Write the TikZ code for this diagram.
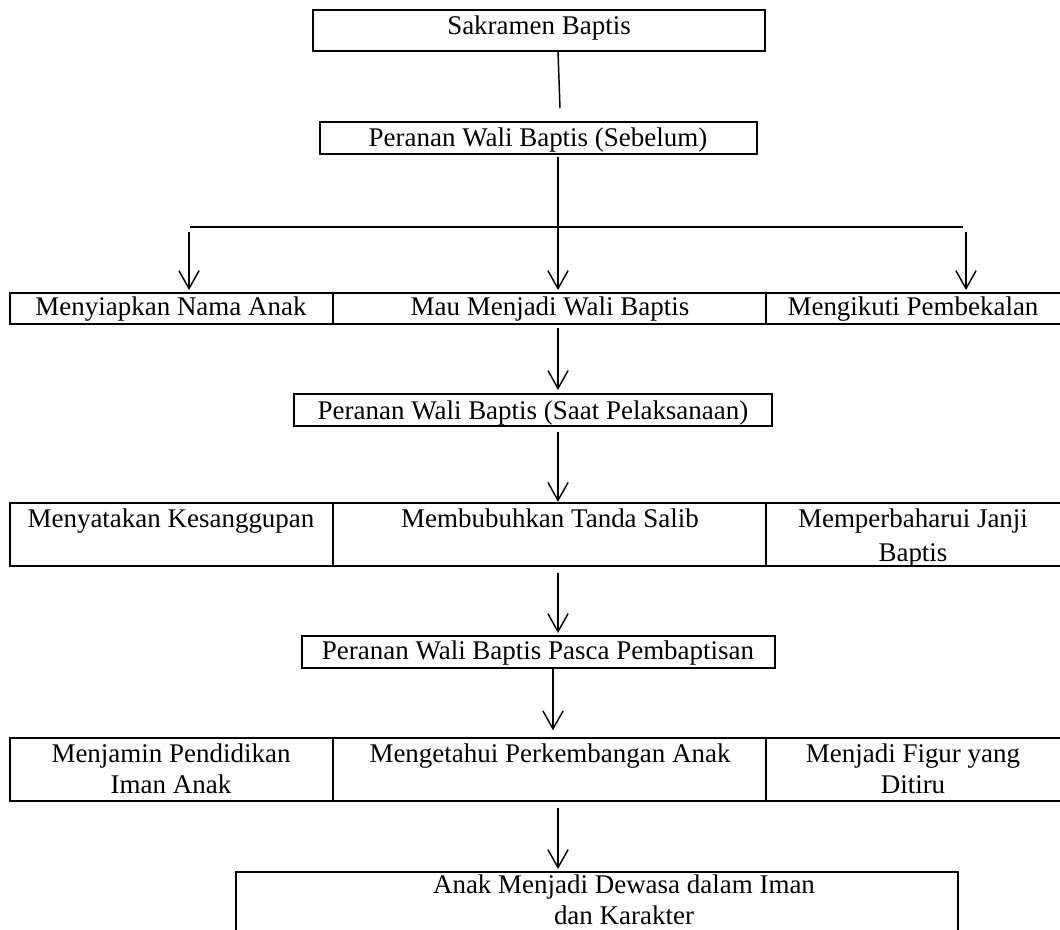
\documentclass[tikz,border=0pt]{standalone}
\usepackage{fontspec}
\setmainfont{Liberation Serif}
\usetikzlibrary{arrows.meta}
\newcommand{\mybox}[5]{\node[boxs, minimum width={(#4-#2)*0.445pt}, minimum height={(#5-#3)*0.445pt}] (#1) at ({(#2+#4)/2},{(#3+#5)/2}) {};}
\begin{document}
\begin{tikzpicture}[x=0.445pt,y=-0.445pt,
  boxs/.style={draw, line width=0.95pt, inner sep=0pt, outer sep=0pt},
  txt/.style={anchor=base, inner sep=0pt, font=\fontsize{12pt}{14.5pt}\selectfont},
  lnk/.style={line width=0.65pt},
  arr/.style={line width=0.65pt, -{Straight Barb[length=8pt,width=9pt]}}]
\useasboundingbox (0,0) rectangle (1060,930);
% boxes
\mybox{A}{313}{10}{765}{51}
\mybox{B}{320}{122}{757}{154}
\mybox{r1a}{10}{293}{333}{324}
\mybox{r1b}{333}{293}{766}{324}
\mybox{r1c}{766}{293}{1063}{324}
\mybox{C}{294}{394}{772}{426}
\mybox{r2a}{10}{503}{333}{566}
\mybox{r2b}{333}{503}{766}{566}
\mybox{r2c}{766}{503}{1063}{566}
\mybox{D}{302}{636}{775}{668}
\mybox{r3a}{10}{738}{333}{801}
\mybox{r3b}{333}{738}{766}{801}
\mybox{r3c}{766}{738}{1063}{801}
\mybox{E}{236}{872}{958}{945}
% texts
\node[txt] (tA) at (539,35) {Sakramen Baptis};
\node[txt] (tB) at (538,147) {Peranan Wali Baptis (Sebelum)};
\node[txt] (t1a) at (171,316) {Menyiapkan Nama Anak};
\node[txt] (t1b) at (550,316) {Mau Menjadi Wali Baptis};
\node[txt] (t1c) at (913,316) {Mengikuti Pembekalan};
\node[txt] (tC) at (533,420) {Peranan Wali Baptis (Saat Pelaksanaan)};
\node[txt] (t2a) at (171,528) {Menyatakan Kesanggupan};
\node[txt] (t2b) at (550,528) {Membubuhkan Tanda Salib};
\node[txt] (t2c) at (913,528) {Memperbaharui Janji};
\node[txt] (t2d) at (913,561) {Baptis};
\node[txt] (tD) at (538,660) {Peranan Wali Baptis Pasca Pembaptisan};
\node[txt] (t3a) at (171,762) {Menjamin Pendidikan};
\node[txt] (t3b) at (171,794) {Iman Anak};
\node[txt] (t3c) at (550,762) {Mengetahui Perkembangan Anak};
\node[txt] (t3d) at (913,762) {Menjadi Figur yang};
\node[txt] (t3e) at (913,794) {Ditiru};
\node[txt] (tE1) at (624,894) {Anak Menjadi Dewasa dalam Iman};
\node[txt] (tE2) at (624,924) {dan Karakter};
% helper coordinates
\coordinate (ax) at (558,0);
\coordinate (ax2) at (553,0);
\coordinate (Aend) at (560,108);
\coordinate (hl) at (190,227);
\coordinate (hr) at (963,227);
\coordinate (la) at (189,232);
\coordinate (ra) at (966,232);
% connectors
\draw[lnk] (A.south -| ax) -- (Aend);
\draw[arr, shorten <=1.3pt, shorten >=1.3pt] (B.south -| ax) -- (r1b.north -| ax);
\draw[lnk] (hl) -- (hr);
\draw[arr, shorten >=1.3pt] (la) -- (r1a.north -| la);
\draw[arr, shorten >=1.3pt] (ra) -- (r1c.north -| ra);
\draw[arr, shorten <=1.8pt, shorten >=1.8pt] (r1b.south -| ax) -- (C.north -| ax);
\draw[arr, shorten <=2.7pt, shorten >=0.5pt] (C.south -| ax) -- (r2b.north -| ax);
\draw[arr, shorten <=3pt, shorten >=1.3pt] (r2b.south -| ax) -- (D.north -| ax);
\draw[arr, shorten >=3.4pt] (D.south -| ax2) -- (r3b.north -| ax2);
\draw[arr, shorten <=3pt, shorten >=1.3pt] (r3b.south -| ax) -- (E.north -| ax);
\end{tikzpicture}
\end{document}
